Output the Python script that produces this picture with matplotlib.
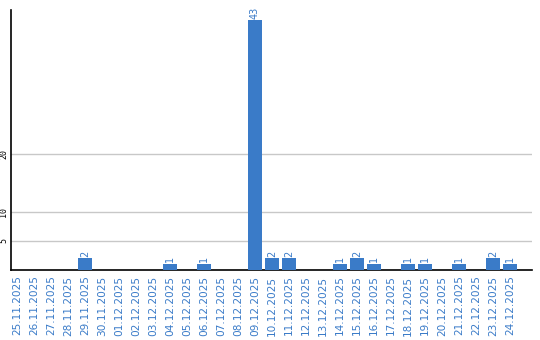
import matplotlib
matplotlib.use("Agg")
import matplotlib.pyplot as plt

dates = ["25.11.2025", "26.11.2025", "27.11.2025", "28.11.2025", "29.11.2025",
         "30.11.2025", "01.12.2025", "02.12.2025", "03.12.2025", "04.12.2025",
         "05.12.2025", "06.12.2025", "07.12.2025", "08.12.2025", "09.12.2025",
         "10.12.2025", "11.12.2025", "12.12.2025", "13.12.2025", "14.12.2025",
         "15.12.2025", "16.12.2025", "17.12.2025", "18.12.2025", "19.12.2025",
         "20.12.2025", "21.12.2025", "22.12.2025", "23.12.2025", "24.12.2025"]
counts = [0, 0, 0, 0, 2, 0, 0, 0, 0, 1, 0, 1, 0, 0, 43,
          2, 2, 0, 0, 1, 2, 1, 0, 1, 1, 0, 1, 0, 2, 1]
yticks = [5, 10, 20]

blue = "#3a7bc8"

fig = plt.figure(figsize=(5.4, 3.4), dpi=100)
ax = fig.add_axes([11 / 540, 70 / 340, 521 / 540, 260 / 340])

x = list(range(len(dates)))
ax.bar(x, counts, width=0.82, color=blue, zorder=3)
for xi, v in zip(x, counts):
    if v > 0:
        ax.text(xi, v + 0.3, str(v), rotation=90, ha="center", va="bottom",
                color=blue, fontsize=7)

ax.set_xlim(-0.35, 30.3)
ax.set_ylim(0, 44.8)
ax.set_yticks(yticks)
ax.set_yticklabels([str(t) for t in yticks], rotation=90, va="center",
                   fontsize=6, family="DejaVu Sans Mono")
ax.yaxis.grid(True, color="#c8c8c8", linewidth=1, zorder=0)
ax.tick_params(axis="y", length=0, pad=2)
ax.set_xticks(x)
ax.set_xticklabels(dates, rotation=90, fontsize=7.6, color=blue)
ax.tick_params(axis="x", length=0, pad=4)

for s in ("top", "right"):
    ax.spines[s].set_visible(False)
ax.spines["left"].set_linewidth(1.2)
ax.spines["bottom"].set_linewidth(1.2)

fig.savefig("out.png", dpi=100)
